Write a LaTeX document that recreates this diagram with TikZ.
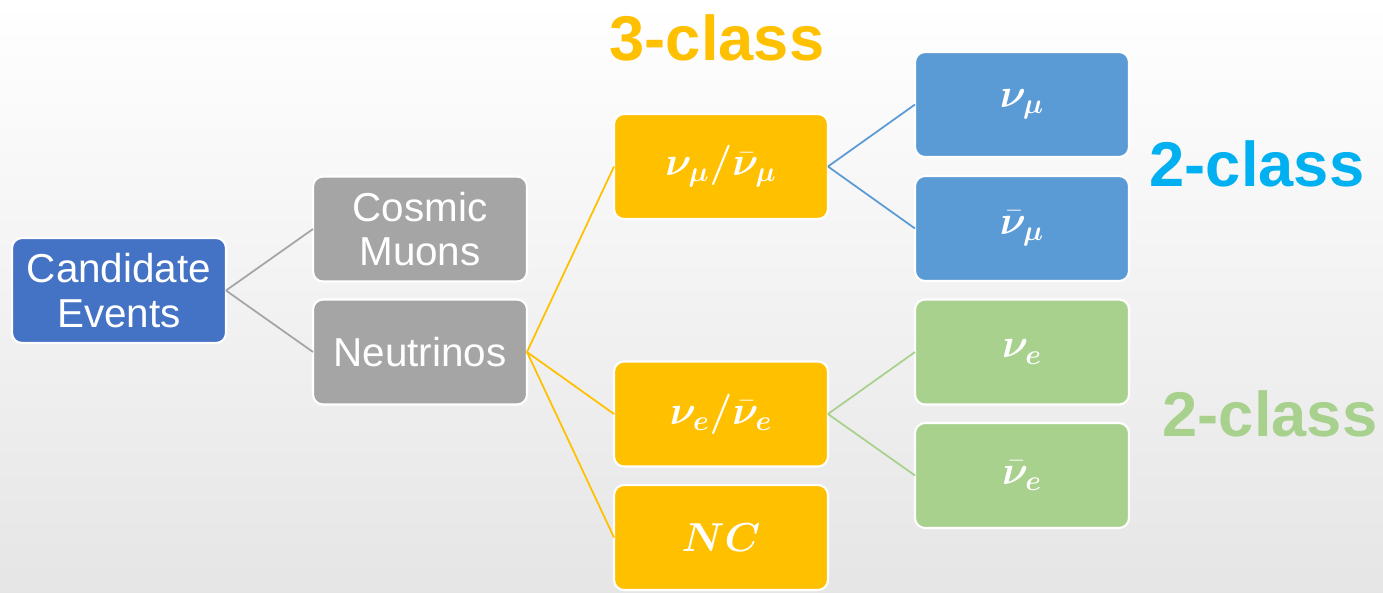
\documentclass[tikz,border=0pt]{standalone}
\usepackage{fix-cm}
\usepackage{amsmath,bm}
\usepackage{fontspec}
\setmainfont{Liberation Sans}
\definecolor{evblue}{HTML}{4472C4}
\definecolor{catgray}{HTML}{A5A5A5}
\definecolor{catgold}{HTML}{FFC000}
\definecolor{catblue}{HTML}{5B9BD5}
\definecolor{catgreen}{HTML}{A9D18E}
\definecolor{lblblue}{HTML}{00B0F0}
\begin{document}
\begin{tikzpicture}[x=0.02cm,y=-0.02cm,
  catbox/.style={rectangle,rounded corners=0.2cm,draw=white,line width=1.2pt,
    minimum width=4.28cm,minimum height=2.1cm,outer sep=0pt,text=white,
    align=center,font=\fontsize{23}{25.5}\selectfont},
  evbox/.style={catbox,fill=evblue},
  graybox/.style={catbox,fill=catgray},
  goldbox/.style={catbox,fill=catgold},
  bluebox/.style={catbox,fill=catblue},
  greenbox/.style={catbox,fill=catgreen},
  link/.style={line width=1pt},
  classlbl/.style={font=\fontsize{36}{40}\selectfont\bfseries}]
  \shade[top color=white,bottom color=black!10] (0,0) rectangle (1383,592);
  \useasboundingbox (0,0) rectangle (1383,592);

  \node[evbox] (cand) at (119,290.5) {Candidate\\Events};

  \node[graybox] (cosmic) at (420,229) {Cosmic\\Muons};
  \node[graybox] (neut) at (420,352) {Neutrinos};
  \draw[link,catgray] (cand.east) -- (cosmic.west);
  \draw[link,catgray] (cand.east) -- (neut.west);

  \node[goldbox] (numuall) at (721,166.5) {$\boldsymbol{\nu_{\mu}/\bar{\nu}_{\mu}}$};
  \node[goldbox] (nueall) at (721,414) {$\boldsymbol{\nu_{e}/\bar{\nu}_{e}}$};
  \node[goldbox] (nc) at (721,537.5) {$\boldsymbol{NC}$};
  \draw[link,catgold] (neut.east) -- (numuall.west);
  \draw[link,catgold] (neut.east) -- (nueall.west);
  \draw[link,catgold] (neut.east) -- (nc.west);

  \node[bluebox] (numu) at (1022,104.5) {$\boldsymbol{\nu_{\mu}}$};
  \node[bluebox] (numubar) at (1022,228.5) {$\boldsymbol{\bar{\nu}_{\mu}}$};
  \draw[link,catblue] (numuall.east) -- (numu.west);
  \draw[link,catblue] (numuall.east) -- (numubar.west);

  \node[greenbox] (nue) at (1022,352) {$\boldsymbol{\nu_{e}}$};
  \node[greenbox] (nuebar) at (1022,475.5) {$\boldsymbol{\bar{\nu}_{e}}$};
  \draw[link,catgreen] (nueall.east) -- (nue.west);
  \draw[link,catgreen] (nueall.east) -- (nuebar.west);

  \node[classlbl,text=catgold] (three) at (717,38) {3-class};
  \node[classlbl,text=lblblue] (twomu) at (1257,164) {2-class};
  \node[classlbl,text=catgreen] (twoe) at (1270,414) {2-class};
\end{tikzpicture}
\end{document}
